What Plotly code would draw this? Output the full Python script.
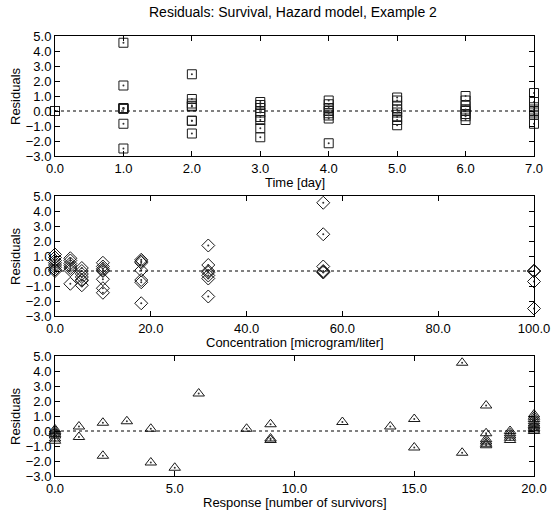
import plotly.graph_objects as go

# Residuals by time (days)
day_x = [0, 0, 0, 0, 0, 0, 0, 0,
         1, 1, 1, 1, 1, 1, 1, 1,
         2, 2, 2, 2, 2, 2, 2, 2,
         3, 3, 3, 3, 3, 3, 3, 3,
         4, 4, 4, 4, 4, 4, 4, 4,
         5, 5, 5, 5, 5, 5, 5, 5,
         6, 6, 6, 6, 6, 6, 6, 6,
         7, 7, 7, 7, 7, 7, 7, 7]
day_resid = [0.0, 0.0, 0.0, 0.0, 0.0, 0.0, 0.0, 0.0,
             4.55, 1.7, 0.2, 0.2, 0.15, 0.15, -0.85, -2.5,
             2.45, 0.8, 0.5, 0.35, 0.3, -0.65, -0.65, -1.5,
             0.6, 0.4, 0.2, -0.1, -0.4, -0.6, -1.15, -1.75,
             0.7, 0.45, 0.2, 0.0, -0.15, -0.3, -0.5, -2.15,
             0.9, 0.7, 0.35, 0.1, -0.1, -0.4, -0.6, -0.95,
             1.0, 0.7, 0.35, 0.1, 0.0, -0.2, -0.35, -0.6,
             1.2, 0.6, 0.25, 0.1, 0.0, -0.1, -0.25, -0.85]

# Residuals by concentration (microgram/liter)
conc_x = [0, 0, 0, 0, 0, 0, 0, 0,
          3.2, 3.2, 3.2, 3.2, 3.2, 3.2, 3.2,
          5.6, 5.6, 5.6, 5.6, 5.6, 5.6, 5.6,
          10, 10, 10, 10, 10, 10, 10, 10,
          18, 18, 18, 18, 18, 18, 18,
          32, 32, 32, 32, 32, 32, 32,
          56, 56, 56, 56, 56, 56,
          100, 100, 100, 100, 100]
conc_resid = [1.1, 0.9, 0.7, 0.55, 0.4, 0.25, 0.1, 0.0,
              0.85, 0.7, 0.5, 0.35, 0.2, 0.05, -0.85,
              0.2, 0.0, -0.2, -0.4, -0.6, -0.65, -0.95,
              0.55, 0.3, 0.15, 0.05, 0.0, -0.55, -1.15, -1.45,
              0.75, 0.65, 0.55, 0.05, -0.6, -0.75, -2.15,
              1.7, 0.4, 0.0, -0.1, -0.3, -0.5, -1.7,
              4.55, 2.45, 0.3, 0.0, -0.05, -0.1,
              0.0, 0.0, 0.0, -0.7, -2.5]

# Residuals by response (number of survivors)
resp_x = [0, 0, 0, 0, 0, 0, 0,
          1, 1, 2, 2, 3, 4, 4, 5, 6, 8,
          9, 9, 9, 12, 14, 15, 15, 17, 17,
          18, 18, 18, 18, 18, 18,
          19, 19, 19, 19, 19,
          20, 20, 20, 20, 20, 20, 20, 20, 20, 20]
resp_resid = [0.1, 0.0, -0.1, -0.2, -0.3, -0.5, -0.65,
              0.3, -0.4, 0.55, -1.65, 0.65, 0.15, -2.1, -2.45, 2.5, 0.15,
              0.45, -0.5, -0.6, 0.6, 0.3, 0.8, -1.1, 4.55, -1.45,
              1.7, -0.15, -0.55, -0.7, -0.85, -0.95,
              0.0, -0.15, -0.3, -0.45, -0.6,
              1.1, 0.95, 0.8, 0.65, 0.5, 0.4, 0.3, 0.2, 0.1, 0.0]

y_ticks = [-3, -2, -1, 0, 1, 2, 3, 4, 5]

W, H = 551, 512
FONT = "Liberation Sans, Arial, Helvetica, sans-serif"
LEFT, RIGHT = 55, 534

panels = [
    dict(x=day_x, y=day_resid, symbol="square-open", size=9,
         xrange=[0, 7], dtick=1, top=36, bottom=156,
         xtitle="Time [day]"),
    dict(x=conc_x, y=conc_resid, symbol="diamond-open", size=10,
         xrange=[0, 100], dtick=20, top=196, bottom=316,
         xtitle="Concentration [microgram/liter]"),
    dict(x=resp_x, y=resp_resid, symbol="triangle-up-open", size=10,
         xrange=[0, 20], dtick=5, top=356, bottom=476,
         xtitle="Response [number of survivors]"),
]

fig = go.Figure()
layout = dict(
    width=W, height=H,
    margin=dict(l=0, r=0, t=0, b=0),
    paper_bgcolor="white", plot_bgcolor="white",
    showlegend=False,
    font=dict(family=FONT, size=13, color="black"),
    annotations=[], shapes=[],
)

axis_common = dict(
    showline=True, linecolor="black", linewidth=1, mirror="allticks",
    ticks="inside", ticklen=5, tickcolor="black", tickwidth=1,
    showgrid=False, zeroline=False, automargin=False,
    tickfont=dict(family=FONT, size=13, color="black"),
    tickformat=".1f", ticklabeloverflow="allow",
)

for i, p in enumerate(panels, start=1):
    xa = f"x{i}" if i > 1 else "x"
    ya = f"y{i}" if i > 1 else "y"
    fig.add_trace(go.Scatter(
        x=p["x"], y=p["y"], mode="markers", xaxis=xa, yaxis=ya,
        cliponaxis=False,
        marker=dict(symbol=p["symbol"], size=p["size"], color="#1a1a1a",
                    line=dict(width=1, color="#1a1a1a")),
    ))
    fig.add_trace(go.Scatter(
        x=p["x"], y=p["y"], mode="markers", xaxis=xa, yaxis=ya,
        cliponaxis=False,
        marker=dict(symbol="circle", size=2, color="#333333"),
    ))
    ydom = [1 - p["bottom"] / H, 1 - p["top"] / H]
    layout[f"xaxis{i if i > 1 else ''}"] = dict(
        axis_common, domain=[LEFT / W, RIGHT / W], anchor=ya,
        range=p["xrange"], dtick=p["dtick"], tick0=0,
    )
    layout[f"yaxis{i if i > 1 else ''}"] = dict(
        axis_common, domain=ydom, anchor=xa,
        range=[-3, 5], tickvals=y_ticks,
    )
    # dotted zero reference line
    layout["shapes"].append(dict(
        type="line", xref=f"{xa} domain", yref=ya,
        x0=0, x1=1, y0=0, y1=0,
        line=dict(color="black", width=1, dash="3px,3px"),
    ))
    # axis titles
    layout["annotations"].append(dict(
        text=p["xtitle"], xref="paper", yref="paper",
        x=(LEFT + RIGHT) / 2 / W, y=1 - (p["bottom"] + 26) / H,
        showarrow=False, xanchor="center", yanchor="middle",
        font=dict(family=FONT, size=13, color="black"),
    ))
    layout["annotations"].append(dict(
        text="Residuals", xref="paper", yref="paper",
        x=15 / W, y=1 - (p["top"] + p["bottom"]) / 2 / H,
        textangle=-90, showarrow=False, xanchor="center", yanchor="middle",
        font=dict(family=FONT, size=13, color="black"),
    ))

layout["annotations"].append(dict(
    text="Residuals: Survival, Hazard model, Example 2",
    xref="paper", yref="paper", x=293 / W, y=1 - 12 / H,
    showarrow=False, xanchor="center", yanchor="middle",
    font=dict(family=FONT, size=14, color="black"),
))

fig.update_layout(**layout)
fig.write_html("out.html")
